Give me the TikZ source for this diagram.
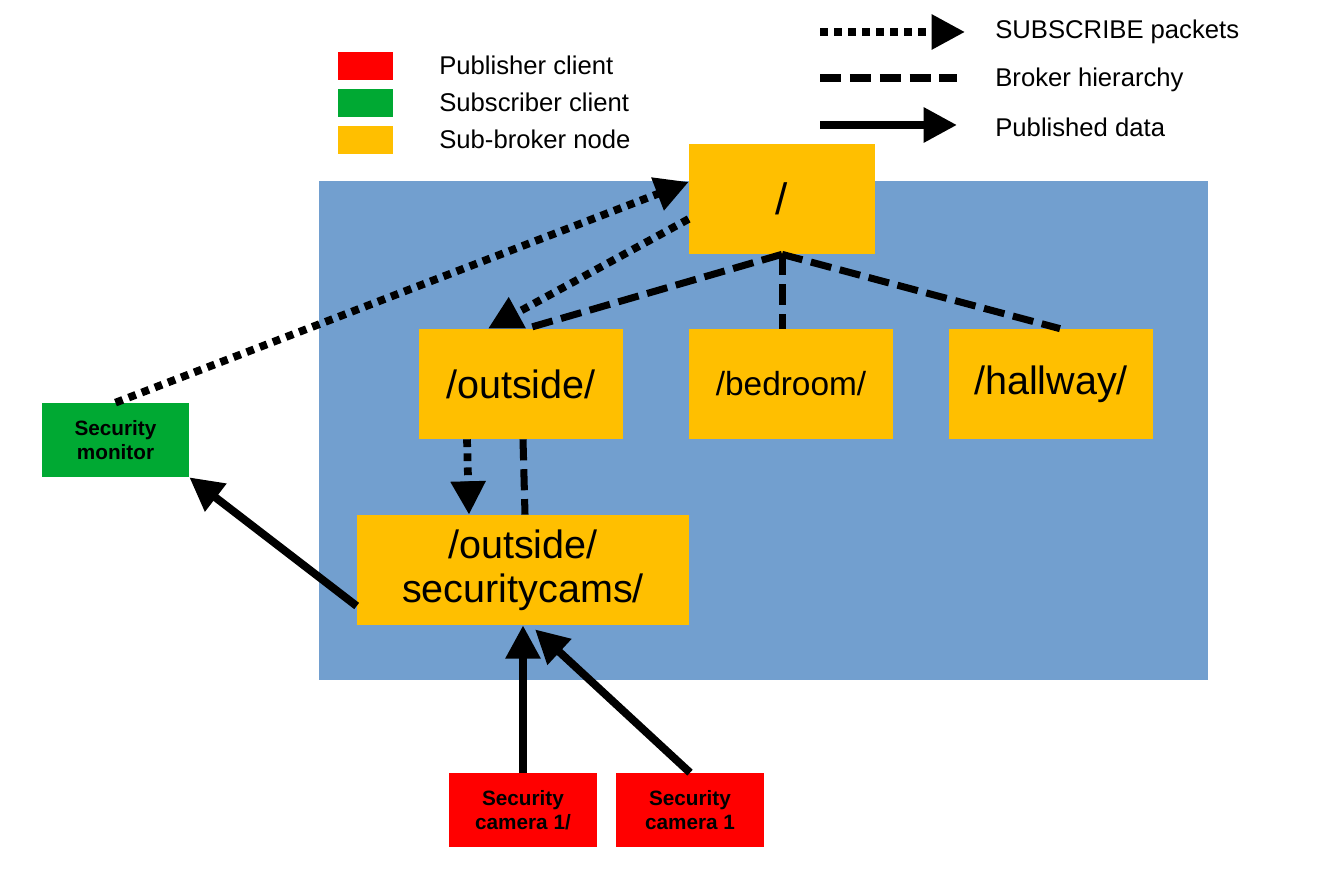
\documentclass[tikz,border=0pt]{standalone}
\usepackage{fontspec}
\setmainfont{Liberation Sans}
\usetikzlibrary{arrows.meta,calc}

\begin{document}
\begin{tikzpicture}[x=0.02cm,y=-0.02cm]
    % set up palette
    \definecolor{pubRed}{RGB}{255,0,0}
    \definecolor{subGreen}{RGB}{0,169,51}
    \definecolor{brokerOrange}{RGB}{255,191,0}
    \definecolor{meshBlue}{RGB}{114,159,207}
    \tikzstyle{every node}=[inner sep=0pt, align=center, text=black]
    \tikzstyle{broker}=[fill=brokerOrange, minimum width=4.08cm, minimum height=2.2cm, font=\fontsize{22.5}{25}\selectfont]
    \tikzstyle{client}=[minimum width=2.96cm, minimum height=1.48cm, font=\fontsize{11.8}{13.6}\selectfont\bfseries]
    \tikzstyle{legendtext}=[anchor=west, font=\fontsize{14.6}{17.5}\selectfont]
    \tikzstyle{swatch}=[minimum width=1.1cm, minimum height=0.56cm]
    \tikzstyle{subscribe}=[line width=4.4pt, dash pattern=on 4.4pt off 3.6pt, -{Triangle[length=19pt,width=19pt]}]
    \tikzstyle{hierarchy}=[line width=4pt, dash pattern=on 12pt off 5pt]
    \tikzstyle{publish}=[line width=4.5pt, -{Triangle[length=19pt,width=19pt]}]

    \useasboundingbox (0,0) rectangle (1317,891);

    % broker area
    \fill[meshBlue] (319,181) rectangle (1208,680);

    % legend: node colours
    \node[swatch, fill=pubRed] (pubKey) at (365.5,66) {};
    \node[swatch, fill=subGreen] (subKey) at (365.5,103) {};
    \node[swatch, fill=brokerOrange] (brokerKey) at (365.5,140) {};
    \node[legendtext] (pubLab) at (439,65) {Publisher client};
    \node[legendtext] (subLab) at (439,102) {Subscriber client};
    \node[legendtext] (brokerLab) at (439,139) {Sub-broker node};

    % legend: connector styles
    \coordinate (subA) at (820,32);
    \coordinate (subB) at (965,32);
    \coordinate (hierA) at (820,78);
    \coordinate (hierB) at (957,78);
    \coordinate (pubA) at (820,125);
    \coordinate (pubB) at (957,125);
    \draw[subscribe] (subA) -- (subB);
    \draw[hierarchy] (hierA) -- (hierB);
    \draw[publish] (pubA) -- (pubB);
    \node[legendtext] (subText) at (995,32) {SUBSCRIBE packets};
    \node[legendtext] (hierText) at (995,80) {Broker hierarchy};
    \node[legendtext] (pubText) at (995,127) {Published data};

    % sub-broker nodes
    \node[broker, minimum width=3.72cm, font=\fontsize{25}{30}\selectfont] (root) at (782,199) {/};
    \node[broker] (outside) at (521,384) {/outside/};
    \node[broker, font=\fontsize{19}{23}\selectfont] (bedroom) at (791,384) {/bedroom/};
    \node[broker] (hallway) at (1051,384) {/hallway/};
    \node[broker, minimum width=6.64cm] (cams) at (523,570) {/outside/\\securitycams/};

    % clients
    \node[client, fill=subGreen, minimum width=2.94cm] (monitor) at (115.5,440) {Security\\monitor};
    \node[client, fill=pubRed] (camA) at (523,810) {Security\\camera 1/};
    \node[client, fill=pubRed] (camB) at (690,810) {Security\\camera 1};

    % broker hierarchy
    \draw[hierarchy] (root.south) -- ($(outside.north)+(5,0)$);
    \draw[hierarchy] (root.south) -- (root.south |- bedroom.north);
    \draw[hierarchy] (root.south) -- ($(hallway.north)+(9,0)$);
    \draw[hierarchy] ($(outside.south)+(2,0)$) -- ($(cams.north)+(2,0)$);

    % subscriptions
    \draw[subscribe] (monitor.north) -- ($(root.west)+(0,-17)$);
    \draw[subscribe] ($(root.west)+(0,20)$) -- ($(outside.north)+(-33,0)$);
    \draw[subscribe] ($(outside.south)+(-54,0)$) -- ($(cams.north)+(-54,0)$);

    % published data
    \draw[publish] ($(cams.west)+(0,36)$) -- (monitor.south east);
    \draw[publish] (camA.north) -- (cams.south);
    \draw[publish] (camB.north) -- ($(cams.south)+(12,4)$);

\end{tikzpicture}
\end{document}
